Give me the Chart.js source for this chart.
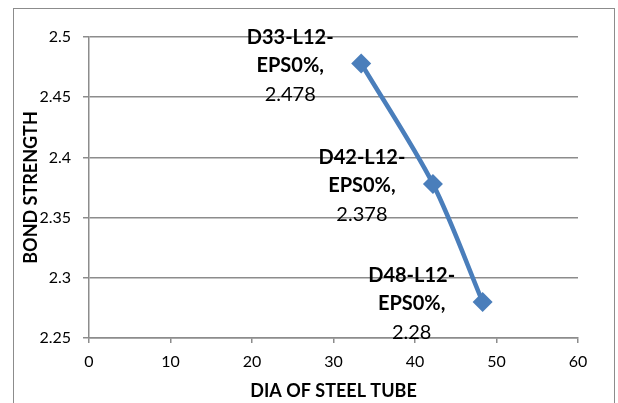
<!DOCTYPE html>
<html>
<head>
<meta charset="utf-8">
<script src="https://cdn.jsdelivr.net/npm/chart.js"></script>
<style>
  html, body { margin: 0; padding: 0; background: #fff; }
  .wrap { position: relative; width: 618px; height: 403px; }
  .frame { position: absolute; left: 13px; top: 8px; width: 602px; height: 420px; border: 1.5px solid #8c8c8c; box-sizing: border-box; }
  canvas { position: absolute; left: 0; top: 0; }
</style>
</head>
<body>
<div class="wrap">
  <div class="frame"></div>
  <canvas id="chart" width="618" height="403"></canvas>
</div>
<script>
  // data
  const diameters = [33.4, 42.2, 48.3];
  const strengths = [2.478, 2.378, 2.28];
  const pointNames = ['D33-L12-EPS0%', 'D42-L12-EPS0%', 'D48-L12-EPS0%'];
  const valueLabels = ['2.478', '2.378', '2.28'];
  const xTicks = [0, 10, 20, 30, 40, 50, 60];
  const yTicks = ['2.25', '2.3', '2.35', '2.4', '2.45', '2.5'];

  const FONT = 'Lato, "Open Sans", sans-serif';
  const BLUE = '#4a7ebb';
  const GRID = '#8c8c8c';

  // draws "NAME-\nEPS0%,\nvalue" to the left of each marker
  const pointLabels = {
    id: 'pointLabels',
    afterDatasetsDraw(chart) {
      const ctx = chart.ctx;
      const meta = chart.getDatasetMeta(0);
      ctx.save();
      ctx.fillStyle = '#000';
      ctx.textAlign = 'center';
      ctx.textBaseline = 'middle';
      meta.data.forEach((pt, i) => {
        const cx = pt.x - 71;
        const parts = pointNames[i].split('-');
        const line1 = parts[0] + '-' + parts[1] + '-';
        const line2 = parts[2] + ',';
        ctx.font = 'bold 20px ' + FONT;
        ctx.fillText(line1, cx, pt.y - 26);
        ctx.fillText(line2, cx, pt.y + 2);
        ctx.font = '20px ' + FONT;
        ctx.fillText(valueLabels[i], cx, pt.y + 31);
      });
      ctx.restore();
    }
  };

  new Chart(document.getElementById('chart'), {
    type: 'scatter',
    data: {
      datasets: [{
        data: diameters.map((d, i) => ({ x: d, y: strengths[i] })),
        showLine: true,
        tension: 0.3,
        borderColor: BLUE,
        borderWidth: 4.5,
        backgroundColor: BLUE,
        pointStyle: 'rectRot',
        pointRadius: 10,
        pointHoverRadius: 10,
        pointBorderWidth: 0
      }]
    },
    options: {
      responsive: false,
      animation: false,
      layout: { padding: { top: 37, right: 40, left: 0, bottom: 0 } },
      plugins: { legend: { display: false }, tooltip: { enabled: false } },
      scales: {
        x: {
          type: 'linear',
          min: xTicks[0], max: xTicks[xTicks.length - 1],
          afterBuildTicks: s => { s.ticks = xTicks.map(v => ({ value: v })); },
          afterFit: s => { s.height = 65; },
          border: { color: GRID, width: 1.5 },
          grid: { drawOnChartArea: false, drawTicks: true, tickLength: 5, color: GRID, lineWidth: 1.5 },
          ticks: { color: '#000', font: { family: FONT, size: 16 }, padding: 9, maxRotation: 0 },
          title: { display: true, text: 'DIA OF STEEL TUBE', color: '#000', font: { family: FONT, size: 18, weight: 'bold' }, padding: { top: 0, bottom: 1 } }
        },
        y: {
          type: 'linear',
          min: 2.25, max: 2.5,
          afterBuildTicks: s => { s.ticks = yTicks.map(v => ({ value: parseFloat(v) })); },
          afterFit: s => { s.width = 89; },
          border: { color: GRID, width: 1.5 },
          grid: { color: GRID, lineWidth: 1.5, tickLength: 6 },
          ticks: { color: '#000', font: { family: FONT, size: 16 }, padding: 12,
                   callback: (v, i) => yTicks[i] },
          title: { display: true, text: 'BOND STRENGTH', color: '#000', font: { family: FONT, size: 18, weight: 'bold' }, padding: { top: 20, bottom: 0 } }
        }
      }
    },
    plugins: [pointLabels]
  });
</script>
</body>
</html>
